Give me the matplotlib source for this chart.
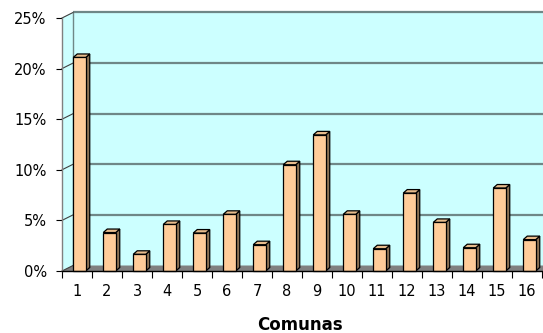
import matplotlib
matplotlib.use("Agg")
import matplotlib.pyplot as plt
from matplotlib.patches import Polygon
from matplotlib.ticker import FixedLocator, PercentFormatter

# Share of cases by comuna (percent)
comunas = [str(i) for i in range(1, 17)]
shares = [21.1, 3.8, 1.65, 4.6, 3.75, 5.6, 2.6, 10.5, 13.45, 5.6, 2.2, 7.7, 4.8, 2.3, 8.2, 3.1]
y_ticks = [0, 5, 10, 15, 20, 25]
x_label = "Comunas"

WALL = "#CCFFFF"
FLOOR = "#808080"
GRID = "#6F8787"
FRONT = "#FFCC99"
SIDE = "#8C7254"
TOP = "#E8BC8C"

fig = plt.figure(figsize=(5.43, 3.33), dpi=100)
W, H = 543, 333
ax = fig.add_axes([62 / W, (H - 271) / H, 480 / W, 253 / H])
n = len(comunas)
ax.set_xlim(0.5, n + 0.5)
ax.set_ylim(0, 25)

# pixel -> data unit conversions for the oblique depth offsets
px_x = (n) / 480.0
px_y = 25 / 253.0
wdx, wdy = 11 * px_x, 5.5 * px_y      # depth of walls / floor
bdx, bdy = 4 * px_x, 3.5 * px_y       # depth of each column
bw = 12.5 * px_x                      # column face width
boff = 2.5 * px_x                     # face shift inside its category

x_lo, x_hi = 0.5, n + 0.5
far = x_hi + 2.0

def poly(pts, fc, ec="none", lw=0.0, z=1):
    p = Polygon(pts, closed=True, facecolor=fc, edgecolor=ec, linewidth=lw,
                zorder=z, clip_on=False, joinstyle="miter")
    ax.add_patch(p)

# back wall, side wall and floor
poly([(x_lo + wdx, wdy), (far, wdy), (far, 25 + wdy), (x_lo + wdx, 25 + wdy)], WALL, z=0.5)
poly([(x_lo, 0), (x_lo + wdx, wdy), (x_lo + wdx, 25 + wdy), (x_lo, 25)], WALL, z=0.6)
poly([(x_lo, 0), (x_lo + wdx, wdy), (far, wdy), (x_hi + 1.0, 0)], FLOOR, z=0.7)

# gridlines on the back wall
for v in y_ticks[1:]:
    ax.plot([x_lo + wdx, far], [v + wdy, v + wdy], color=GRID, lw=1.6,
            zorder=0.8, clip_on=False, solid_capstyle="butt")
ax.plot([x_lo + wdx, x_lo + wdx], [wdy, 25 + wdy], color=GRID, lw=1.0, zorder=0.8, clip_on=False)
# edges of the side wall
for v in y_ticks:
    ax.plot([x_lo, x_lo + wdx], [v, v + wdy], color="#404040", lw=0.8,
            zorder=0.9, clip_on=False)

# 3D columns
for i, v in enumerate(shares, start=1):
    x0 = i - bw / 2 + boff
    x1 = x0 + bw
    poly([(x1, 0), (x1 + bdx, bdy), (x1 + bdx, v + bdy), (x1, v)], SIDE, "black", 0.9, z=3)
    poly([(x0, v), (x0 + bdx, v + bdy), (x1 + bdx, v + bdy), (x1, v)], TOP, "black", 0.9, z=3)
    poly([(x0, 0), (x1, 0), (x1, v), (x0, v)], FRONT, "black", 0.9, z=4)

# axes styling
for s in ("top", "right"):
    ax.spines[s].set_visible(False)
ax.spines["left"].set_color("#808080")
ax.spines["left"].set_linewidth(1.0)
ax.spines["bottom"].set_color("black")
ax.spines["bottom"].set_linewidth(1.0)
ax.spines["bottom"].set_zorder(5)
ax.patch.set_visible(False)

ax.set_yticks(y_ticks)
ax.yaxis.set_major_formatter(PercentFormatter(decimals=0))
ax.tick_params(axis="y", direction="out", length=4, width=0.8, color="black",
               pad=7, labelsize=10.5)

ax.set_xticks(range(1, n + 1))
ax.set_xticklabels(comunas)
ax.xaxis.set_minor_locator(FixedLocator([x_lo + k for k in range(n + 1)]))
ax.tick_params(axis="x", which="major", length=0, pad=9, labelsize=10.5)
ax.tick_params(axis="x", which="minor", direction="out", length=5, width=0.8, color="black")

fig.text(299.5 / W, (H - 329.5) / H, x_label, ha="center", va="baseline",
         fontsize=12, fontweight="bold")

fig.savefig("out.png", dpi=100)
